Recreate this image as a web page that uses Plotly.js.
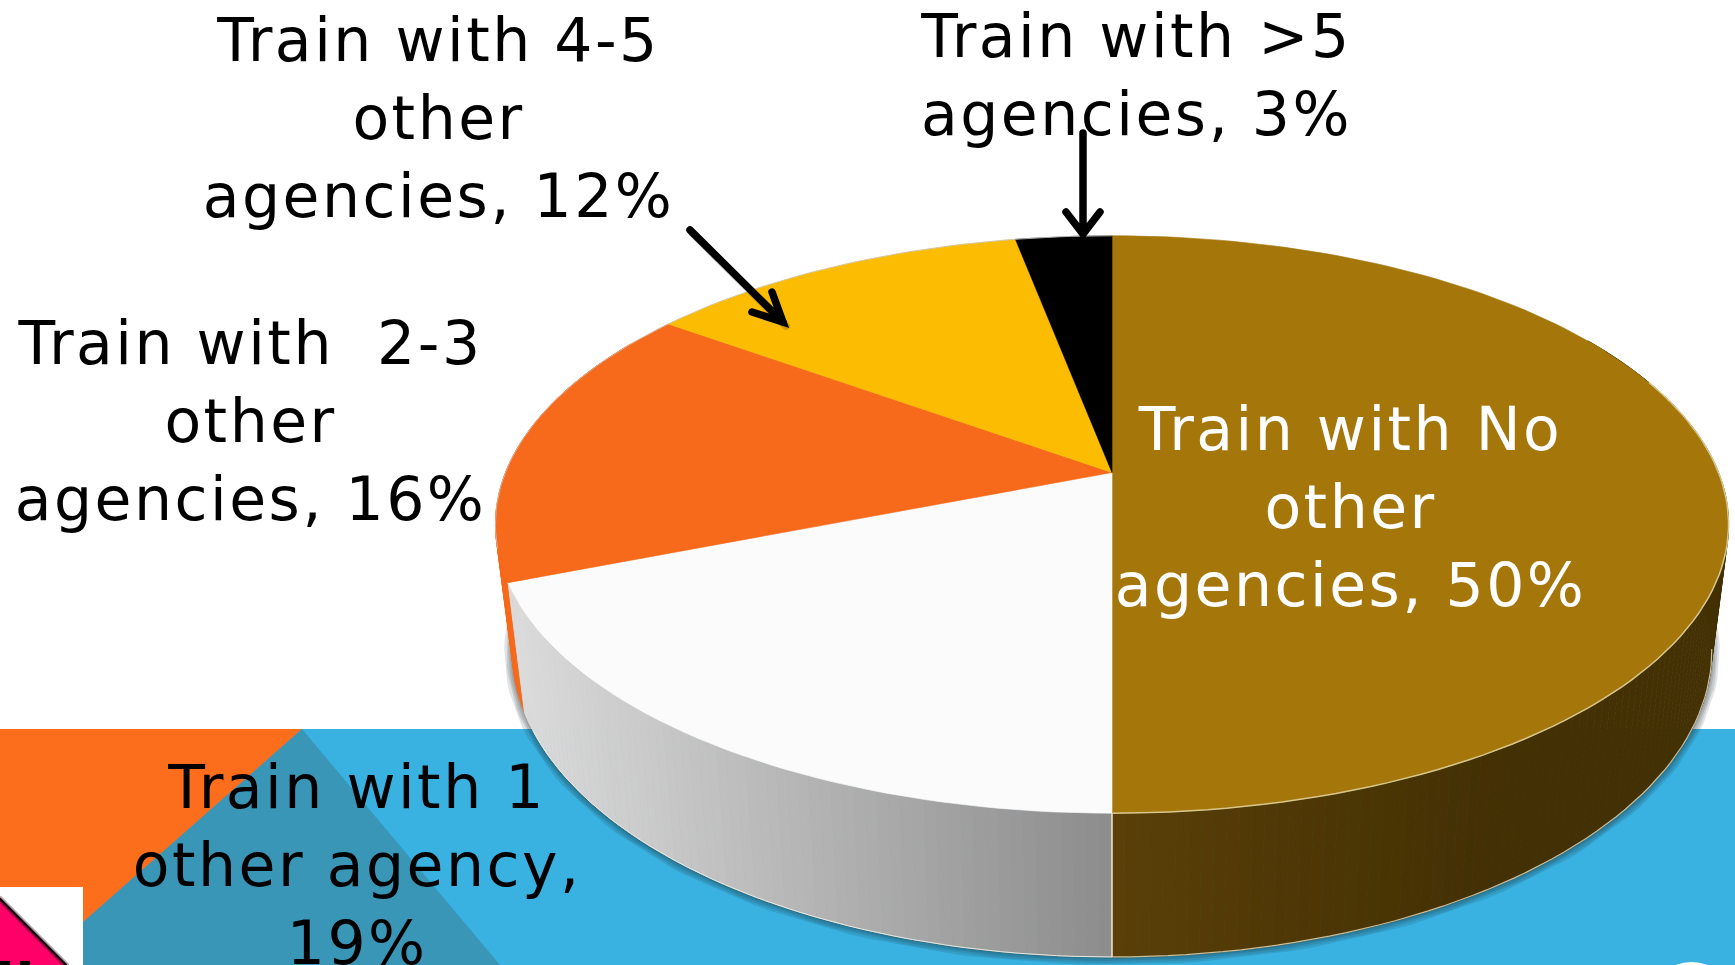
<!DOCTYPE html>
<html><head><meta charset="utf-8">
<script src="https://cdn.plot.ly/plotly-3.0.1.min.js"></script>
<style>html,body{margin:0;padding:0;background:#fff}#c{width:1735px;height:965px}
.annotation text{letter-spacing:2.5px}
.shapelayer path{stroke-linecap:round}
</style>
</head><body><div id="c"></div>
<script>
// ---- chart data ----
const categories = ["Train with No other agencies", "Train with 1 other agency", "Train with 2-3 other agencies", "Train with 4-5 other agencies", "Train with >5 agencies"];
const shares = [50, 19, 16, 12, 3];
const topColors = ["#A5770B", "#FBFBFB", "#F7691B", "#FCBC02", "#000000"];
const sideFrom = ["#5A3F08", "#8C8C8C", "#F7691B", "#FCBC02", "#000000"];
const sideTo = ["#433003", "#DDDDDD", "#F7691B", "#FCBC02", "#000000"];

// labels: one block per slice
const labelText = [
  "Train with No<br>other<br>agencies, 50%",
  "Train with 1<br>other agency,<br>19%",
  "Train with  2-3<br>other<br>agencies, 16%",
  "Train with 4-5<br>other<br>agencies, 12%",
  "Train with &gt;5<br>agencies, 3%"
];
const labelColor = ["#FFFFFF", "#000000", "#000000", "#000000", "#000000"];
const labelX = [1350, 357, 250, 438, 1136];
const labelY = [392, 750, 306, 3, 0];
const labelShift = [0, 0, 0, 0, 1];

// ---- projection of the pie disc (perspective tilt) ----
const topDisc = {cx: 1112, c: -0.18, amp: 194.3, base: 472.5, w: 606.5};
const lowDisc = {cx: 1112, c: -0.18, amp: 188.8, base: 595.9, w: 590};
function project(d, deg) {
  const r = deg * Math.PI / 180, s = Math.sin(r), t = -Math.cos(r);
  const k = 1 + d.c * t;
  return [d.cx + d.w * s / k, (d.base + d.amp * t) / k];
}
function arc(d, from, to) {
  const out = [], n = Math.max(2, Math.ceil(Math.abs(to - from) / 1.5));
  for (let i = 0; i <= n; i++) out.push(project(d, from + (to - from) * i / n));
  return out;
}
function poly(pts, color, lineColor, lw) {
  return {type: "scatter", mode: "lines", x: pts.map(p => p[0]), y: pts.map(p => p[1]),
    fill: "toself", fillcolor: color, line: {color: lineColor || color, width: lw === undefined ? 1 : lw},
    hoverinfo: "skip", showlegend: false};
}
function path(pts, color, lw) {
  return {type: "scatter", mode: "lines", x: pts.map(p => p[0]), y: pts.map(p => p[1]),
    line: {color: color, width: lw}, hoverinfo: "skip", showlegend: false};
}
function mix(a, b, f) {
  const h = x => [1, 3, 5].map(i => parseInt(x.substr(i, 2), 16));
  const A = h(a), B = h(b);
  return "rgb(" + A.map((v, i) => Math.round(v + (B[i] - v) * f)).join(",") + ")";
}

const traces = [];
// soft drop shadow under the wall
const shadowLoop = arc(lowDisc, 92, 266);
[16, 12, 8, 4].forEach(w => traces.push(path(shadowLoop, "rgba(20,40,50,0.13)", w)));

// cumulative slice angles
const stops = [0];
shares.forEach(v => stops.push(stops[stops.length - 1] + v * 3.6));

// walls, drawn as thin strips (orange first so it sits behind the white wall)
[4, 3, 2, 0, 1].forEach(i => {
  const a0 = stops[i], a1 = stops[i + 1];
  const step = 1, n = Math.ceil((a1 - a0) / step);
  for (let k = 0; k < n; k++) {
    const p = a0 + (a1 - a0) * k / n, q = a0 + (a1 - a0) * (k + 1) / n;
    if (q < 60 || p > 300) continue;
    const mid = project(lowDisc, (p + q) / 2);
    const f = Math.abs(mid[0] - lowDisc.cx) / 600;
    const col = mix(sideFrom[i], sideTo[i], i === 0 ? Math.min(1, f * 1.6) : f);
    traces.push(poly(arc(topDisc, p, q).concat(arc(lowDisc, q, p)), col));
  }
});
// pale edge of the pie wall
traces.push(path(arc(lowDisc, 100, 180), "#C9BE9A", 1.2));
traces.push(path(arc(lowDisc, 180, 245), "#E8E8E0", 1));
traces.push(path([project(topDisc, 180), project(lowDisc, 180)], "#EFE6CC", 1.5));

// disc top
const apex = [topDisc.cx, topDisc.base];
shares.forEach((v, i) => {
  traces.push(poly([apex].concat(arc(topDisc, stops[i], stops[i + 1]), [apex]), topColors[i], topColors[i], 0.6));
});
traces.push(path(arc(topDisc, 70, 180), "#D8C68C", 1.5));
traces.push(path(arc(topDisc, 255, 360), "#C8C8C8", 0.8));

// arrows
const arrowA = "M690,230 L783,322 M772,292 L783,322 L752,312";
const arrowB = "M1083,133 L1083,234 M1066,212 L1083,234 L1100,212";
const line = (p, c, w) => ({type: "path", path: p, line: {color: c, width: w}, layer: "above"});
const tri = (p, c) => ({type: "path", path: p, fillcolor: c, line: {width: 0}, layer: "below"});
const shapes = [
  {type: "rect", x0: 0, x1: 1735, y0: 729, y1: 965, fillcolor: "#39B2E2", line: {width: 0}, layer: "below"},
  tri("M0,729 L302,729 L0,1000 Z", "#FC6D1C"),
  tri("M302,729 L500,965 L83,965 L83,922 Z", "#3A96B7"),
  {type: "rect", x0: 0, x1: 83, y0: 887, y1: 965, fillcolor: "#FFFFFF", line: {width: 0}, layer: "below"},
  tri("M0,899 L66,965 L0,965 Z", "#FF0069"),
  {type: "circle", x0: 1650, x1: 1733, y0: 962, y1: 1040, fillcolor: "#FFFFFF", line: {width: 0}, layer: "below"},
  {type: "rect", x0: 0, x1: 10, y0: 961, y1: 965, fillcolor: "#000000", line: {width: 0}, layer: "below"},
  {type: "rect", x0: 20, x1: 30, y0: 961, y1: 965, fillcolor: "#000000", line: {width: 0}, layer: "below"},
  line("M0,899 L66,965", "rgba(58,10,32,0.35)", 6),
  line("M0,899 L66,965", "#1A0510", 2.5),
  line("M693,234 L786,326", "rgba(0,0,0,0.16)", 8),
  line(arrowA, "#000000", 7.5),
  line(arrowB, "#000000", 7.5)
];

const annotations = labelText.map((t, i) => ({
  xref: "x", yref: "y", x: labelX[i], y: labelY[i], yshift: labelShift[i], text: t, showarrow: false,
  xanchor: "center", yanchor: "top", align: "center",
  font: {family: "DejaVu Sans, Verdana, sans-serif", size: 60, color: labelColor[i]}
}));

Plotly.newPlot("c", traces, {
  width: 1735, height: 965,
  margin: {l: 0, r: 0, t: 0, b: 0},
  paper_bgcolor: "#FFFFFF", plot_bgcolor: "#FFFFFF",
  xaxis: {range: [0, 1735], visible: false, fixedrange: true},
  yaxis: {range: [965, 0], visible: false, fixedrange: true},
  showlegend: false, shapes, annotations
}, {displayModeBar: false, staticPlot: true});
</script></body></html>
